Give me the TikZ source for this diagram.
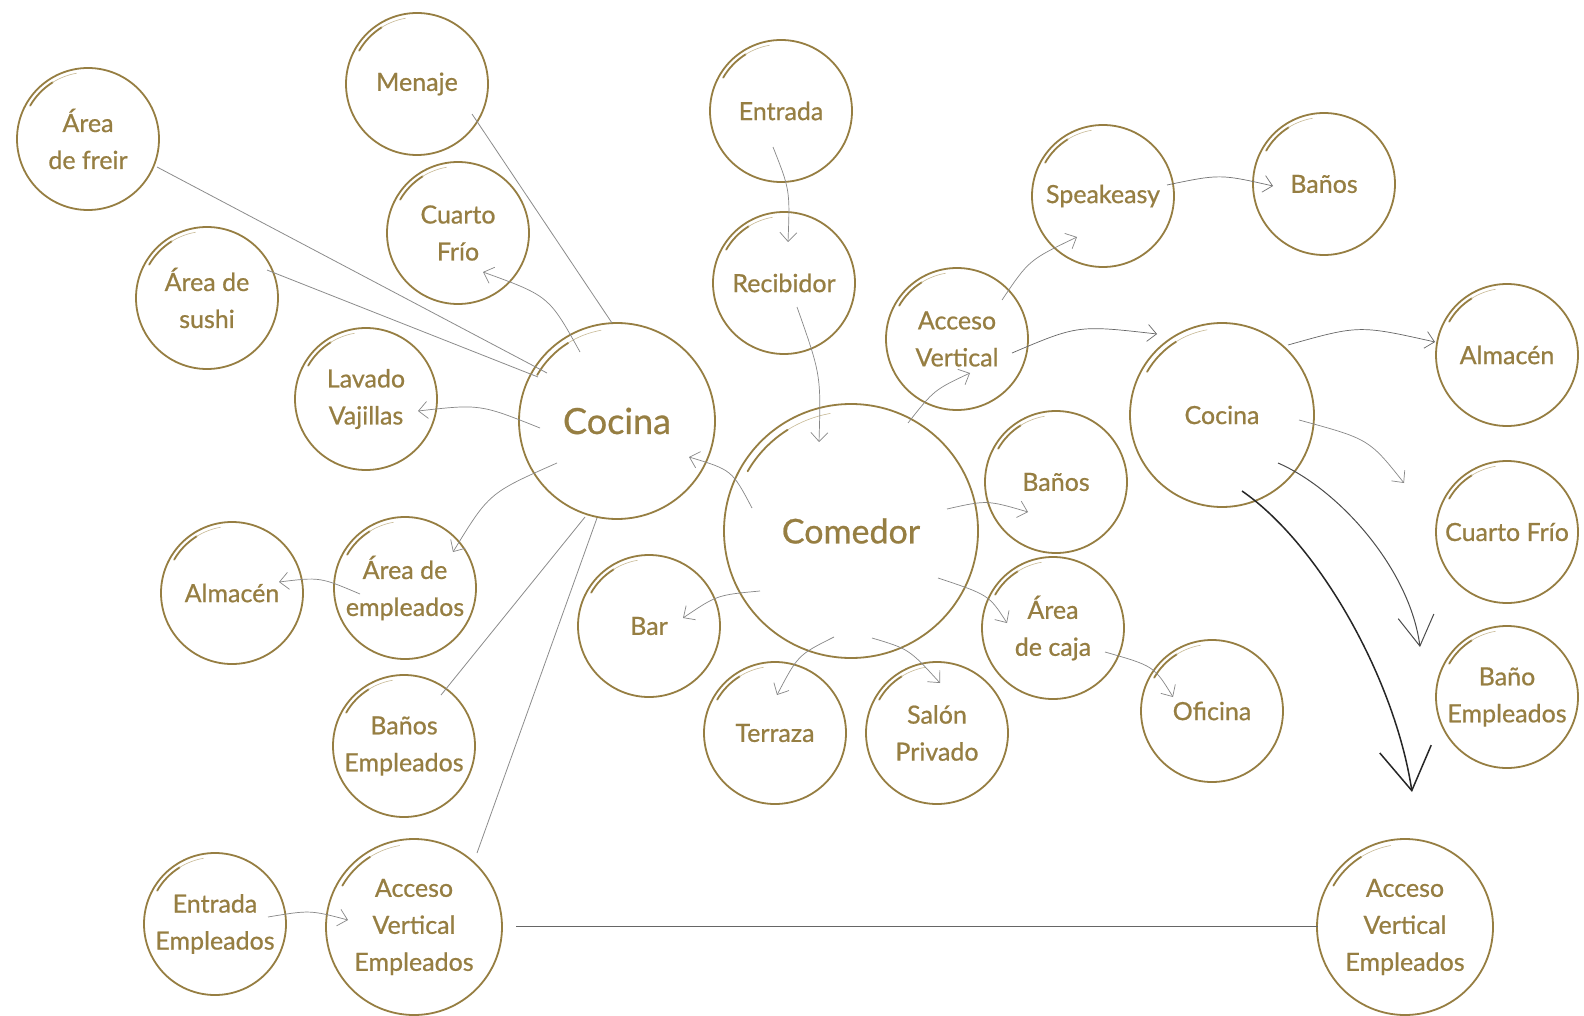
\documentclass[tikz,border=0pt]{standalone}
\usepackage{fontspec}
\setmainfont{Lato}[FakeBold=0.7]
\usetikzlibrary{arrows.meta}
\definecolor{gold}{RGB}{150,126,66}
\definecolor{goldl}{RGB}{200,186,150}
\definecolor{lk}{RGB}{140,140,140}
\definecolor{ar}{RGB}{135,135,135}
% name, x, y, radius, text
\newcommand\bubl[5]{%
  \node[bub, minimum size={2*#4}] (#1) at (#2,#3) {};
  \node[txt] (#1-t) at (#1.center) {#5};
  \draw[gold, line width=1.8pt, line cap=round] (#1.center) ++(150:{0.94*#4pt}) arc[start angle=150, end angle=122, radius={0.94*#4pt}];
  \draw[goldl, line width=0.6pt, line cap=round] (#1.center) ++(122:{0.94*#4pt}) arc[start angle=122, end angle=100, radius={0.94*#4pt}];
}
\begin{document}
\begin{tikzpicture}[x=1pt,y=-1pt,
  bub/.style={circle, draw=gold, line width=1.8pt, inner sep=0pt},
  txt/.style={text=gold, align=center, inner sep=0pt, font=\fontsize{25}{37}\selectfont},
  link/.style={draw=lk, line width=0.8pt},
  arr/.style={draw=ar, line width=0.7pt, -{Straight Barb[length=9pt,width=17pt]}},
  bigarr/.style={draw=black!70, line width=1pt, -{Straight Barb[length=30pt,width=36pt]}},
  hugearr/.style={draw=black!85, line width=1.5pt, -{Straight Barb[length=42pt,width=52pt]}}]
\useasboundingbox (0,0) rectangle (1584,1016);
\fill[white] (0,0) rectangle (1584,1016);

% nodes
\bubl{freir}{88}{139}{71}{Área\\de freir}
\bubl{menaje}{417}{84}{71}{Menaje}
\bubl{cfL}{458}{233}{71}{Cuarto\\Frío}
\bubl{sushi}{207}{298}{71}{Área de\\sushi}
\bubl{lavado}{366}{399}{71}{Lavado\\Vajillas}
\bubl{cocL}{617}{421}{98}{{\fontsize{36}{40}\selectfont Cocina}}
\bubl{almL}{232}{593}{71}{Almacén}
\bubl{empl}{405}{588}{71}{Área de\\empleados}
\bubl{banEL}{404}{746}{71}{Baños\\Empleados}
\bubl{entE}{215}{924}{71}{Entrada\\Empleados}
\bubl{aveL}{414}{927}{88}{Acceso\\Vertical\\Empleados}
\bubl{entrada}{781}{111}{71}{Entrada}
\bubl{recib}{784}{283}{71}{Recibidor}
\bubl{com}{851}{531}{127}{{\fontsize{34}{38}\selectfont Comedor}}
\bubl{bar}{649}{626}{71}{Bar}
\bubl{terr}{775}{733}{71}{Terraza}
\bubl{salon}{937}{733}{71}{Salón\\Privado}
\bubl{av}{957}{339}{71}{Acceso\\Vertical}
\bubl{speak}{1103}{196}{71}{Speakeasy}
\bubl{banT}{1324}{184}{71}{Baños}
\bubl{banM}{1056}{482}{71}{Baños}
\bubl{caja}{1053}{628}{71}{Área\\de caja}
\bubl{ofi}{1212}{711}{71}{Oficina}
\bubl{cocR}{1222}{415}{92}{Cocina}
\bubl{almR}{1507}{355}{71}{Almacén}
\bubl{cfR}{1507}{532}{71}{Cuarto Frío}
\bubl{banER}{1507}{697}{71}{Baño\\Empleados}
\bubl{aveR}{1405}{927}{88}{Acceso\\Vertical\\Empleados}
\coordinate (freeR) at (1412,792);

% straight links
\draw[link] ([shift={(55,30)}]menaje.center) -- ([shift={(-5,-98)}]cocL.center);
\draw[link] ([shift={(69,28)}]freir.center) -- ([shift={(-70,-48)}]cocL.center);
\draw[link] ([shift={(60,-28)}]sushi.center) -- ([shift={(-79,-44)}]cocL.center);
\draw[link] ([shift={(37,-51)}]banEL.center) -- ([shift={(-32,96)}]cocL.center);
\draw[link] ([shift={(63,-74)}]aveL.center) -- ([shift={(-20,97)}]cocL.center);
\draw[link, draw=black!60] ([shift={(102,-1)}]aveL.center) -- ([shift={(-87,-1)}]aveR.center);

% curved arrows
\draw[arr] ([shift={(-37,-69)}]cocL.center) .. controls (549,296) .. ([shift={(25,39)}]cfL.center);
\draw[arr] ([shift={(-77,7)}]cocL.center) .. controls (480,404) .. ([shift={(52,12)}]lavado.center);
\draw[arr] ([shift={(-60,42)}]cocL.center) .. controls (489,493) .. ([shift={(48,-36)}]empl.center);
\draw[arr] ([shift={(-45,6)}]empl.center) .. controls (320,577) .. ([shift={(47,-11)}]almL.center);
\draw[arr] ([shift={(53,-7)}]entE.center) .. controls (310,910) .. ([shift={(-66,-7)}]aveL.center);
\draw[arr] ([shift={(-99,-23)}]com.center) .. controls (732,470) .. ([shift={(72,36)}]cocL.center);
\draw[arr] ([shift={(-8,36)}]entrada.center) .. controls (790,190) .. ([shift={(4,-41)}]recib.center);
\draw[arr] ([shift={(13,24)}]recib.center) .. controls (821,375) .. ([shift={(-32,-89)}]com.center);
\draw[arr] ([shift={(57,-108)}]com.center) .. controls (934,390) .. ([shift={(13,34)}]av.center);
\draw[arr] ([shift={(45,-39)}]av.center) .. controls (1029,260) .. ([shift={(-26,41)}]speak.center);
\draw[arr, draw=black!60] ([shift={(55,14)}]av.center) .. controls (1078,325) .. ([shift={(-65,-81)}]cocR.center);
\draw[arr, draw=black!55] ([shift={(64,-11)}]speak.center) .. controls (1220,174) .. ([shift={(-51,2)}]banT.center);
\draw[arr] ([shift={(96,-22)}]com.center) .. controls (987,500) .. ([shift={(-28,30)}]banM.center);
\draw[arr] ([shift={(87,47)}]com.center) .. controls (989,595) .. ([shift={(-46,-5)}]caja.center);
\draw[arr] ([shift={(52,24)}]caja.center) .. controls (1154,666) .. ([shift={(-39,-14)}]ofi.center);
\draw[arr] ([shift={(-91,60)}]com.center) .. controls (717,595) .. ([shift={(34,-8)}]bar.center);
\draw[arr] ([shift={(-17,106)}]com.center) .. controls (798,655) .. ([shift={(2,-38)}]terr.center);
\draw[arr] ([shift={(21,107)}]com.center) .. controls (909,649) .. ([shift={(3,-50)}]salon.center);
\draw[arr, draw=black!60] ([shift={(66,-70)}]cocR.center) .. controls (1359,325) .. ([shift={(-72,-13)}]almR.center);
\draw[arr] ([shift={(77,5)}]cocR.center) .. controls (1369,439) .. ([shift={(-103,-49)}]cfR.center);
\draw[bigarr] ([shift={(56,48)}]cocR.center) .. controls (1340,490) and (1410,570) .. ([shift={(-87,-50)}]banER.center);
\draw[hugearr] ([shift={(20,76)}]cocR.center) .. controls (1320,545) and (1395,680) .. (freeR);
\end{tikzpicture}
\end{document}
